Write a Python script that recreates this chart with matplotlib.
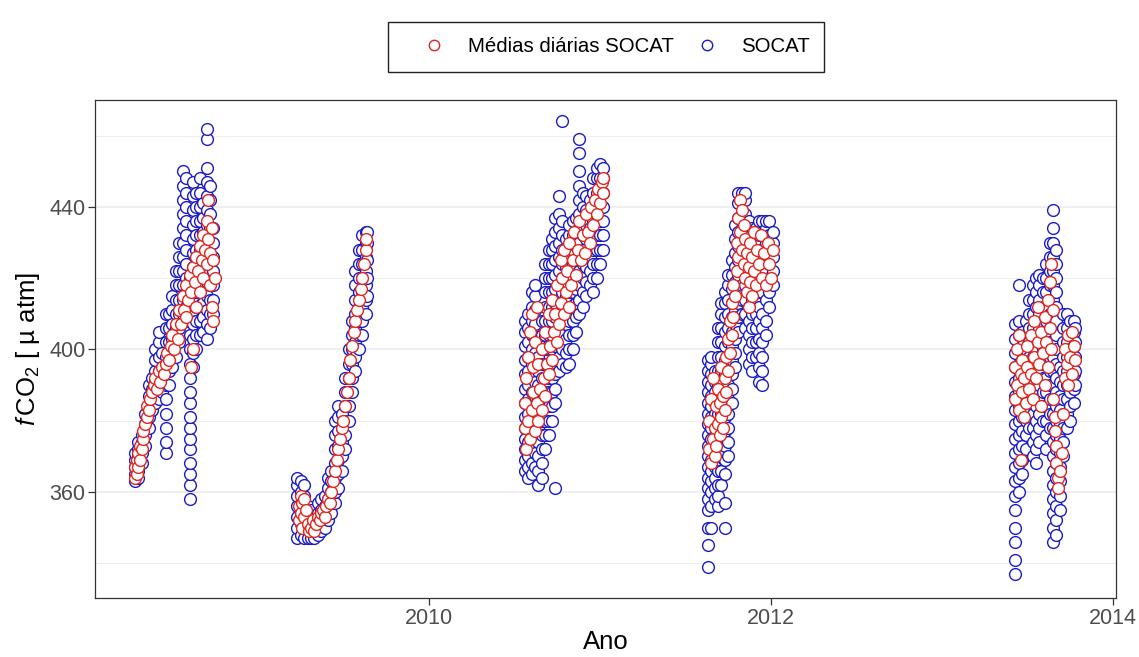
import numpy as np
import matplotlib
matplotlib.use("Agg")
import matplotlib.pyplot as plt
from matplotlib.lines import Line2D
from matplotlib.patches import Rectangle

plt.rcParams['font.family'] = ['Liberation Sans', 'DejaVu Sans']
plt.rcParams['mathtext.fontset'] = 'custom'
plt.rcParams['mathtext.rm'] = 'Liberation Sans'
plt.rcParams['mathtext.it'] = 'Liberation Sans:italic'

# SOCAT fCO2 (uatm): each cruise day is a column of values at one date (decimal year)
socat_2008_ano = [2008.28, 2008.30, 2008.32, 2008.34, 2008.36, 2008.38, 2008.40, 2008.42, 2008.44,
                  2008.46, 2008.48, 2008.50, 2008.52, 2008.54, 2008.56, 2008.58, 2008.60, 2008.62,
                  2008.64, 2008.66, 2008.68, 2008.70, 2008.72, 2008.74]
socat_2008_fco2 = [
    [363, 365, 367, 369, 371],
    [364, 366, 368, 370, 372, 374],
    [368, 371, 374, 376],
    [373, 376, 379, 382],
    [378, 381, 384, 387, 390],
    [383, 386, 389, 392],
    [385, 388, 391, 394, 397, 400],
    [386, 390, 394, 398, 402, 405],
    [388, 391, 395, 399],
    [371, 374, 378, 382, 386, 390, 394, 398, 402, 406, 410],
    [390, 394, 398, 402, 406, 410],
    [395, 399, 403, 407, 411, 415],
    [398, 402, 406, 410, 414, 418, 422],
    [402, 406, 410, 414, 418, 422, 426, 430],
    [410, 414, 418, 422, 426, 430, 434, 438, 442, 446, 450],
    [408, 412, 416, 420, 424, 428, 432, 436, 440, 444, 448],
    [358, 362, 365, 368, 372, 375, 378, 381, 385, 388, 392, 396, 400, 404, 408, 412, 416, 420],
    [395, 399, 403, 407, 411, 415, 419, 423, 427, 431, 435, 439, 443, 447],
    [400, 404, 408, 412, 416, 420, 424, 428, 432, 436, 440, 444],
    [404, 408, 412, 416, 420, 424, 428, 432, 436, 440, 444, 448],
    [405, 409, 413, 417, 421, 425, 429, 433, 437, 441],
    [403, 407, 411, 415, 419, 423, 427, 431, 435, 439, 443, 447, 451, 459, 462],
    [406, 410, 414, 418, 422, 426, 430, 434, 438, 442, 446],
    [410, 414, 418, 422, 426, 430, 434],
]

socat_2009_ano = [2009.23, 2009.25, 2009.27, 2009.29, 2009.31, 2009.33, 2009.35, 2009.37, 2009.39,
                  2009.41, 2009.43, 2009.45, 2009.47, 2009.49, 2009.51, 2009.53, 2009.55, 2009.57,
                  2009.59, 2009.61, 2009.63, 2009.64]
socat_2009_fco2 = [
    [347, 350, 353, 356, 359, 362, 364],
    [348, 351, 354, 357, 360, 363],
    [347, 350, 353, 356, 359, 362],
    [347, 350, 353, 356],
    [347, 349, 352, 355],
    [347, 350, 353],
    [348, 351, 354, 357],
    [349, 352, 355, 358],
    [350, 353, 356, 359],
    [352, 355, 358, 361, 364],
    [354, 357, 360, 363, 366],
    [357, 360, 364, 368, 372, 376, 380],
    [361, 365, 369, 373, 377, 381, 384],
    [366, 370, 374, 378, 382],
    [372, 376, 380, 384, 388, 392],
    [380, 384, 388, 392, 396, 400],
    [388, 392, 396, 400, 404, 408],
    [394, 398, 402, 406, 410, 414, 418, 422],
    [400, 404, 408, 412, 416, 420, 424, 428],
    [404, 408, 412, 416, 420, 424, 428, 432],
    [410, 414, 418, 422, 426, 430, 433],
    [415, 420, 425, 430, 433],
]

socat_2010_ano = [2010.56, 2010.58, 2010.60, 2010.62, 2010.64, 2010.66, 2010.68, 2010.70, 2010.72,
                  2010.74, 2010.76, 2010.78, 2010.80, 2010.82, 2010.84, 2010.86, 2010.88, 2010.90,
                  2010.92, 2010.94, 2010.96, 2010.98, 2011.00, 2011.02]
socat_2010_fco2 = [
    [366, 369, 372, 375, 378, 381, 385, 389, 393, 397, 401, 405, 408],
    [364, 367, 370, 374, 378, 382, 386, 390, 394, 398, 402, 406, 410],
    [365, 368, 372, 376, 380, 384, 388, 392, 396, 400, 404, 408, 412, 416],
    [367, 371, 375, 379, 383, 387, 391, 395, 399, 403, 407, 411, 415, 418],
    [362, 366, 370, 374, 378, 382, 386, 390, 394, 398, 402],
    [364, 368, 372, 376, 380, 384, 388, 392, 396, 400, 404, 408],
    [372, 376, 380, 384, 388, 392, 396, 400, 404, 408, 412, 416, 420, 424],
    [376, 380, 384, 388, 392, 396, 400, 404, 408, 412, 416, 420, 424, 428],
    [380, 384, 388, 392, 396, 400, 404, 408, 412, 416, 420, 424, 428, 431],
    [361, 385, 389, 393, 397, 401, 405, 409, 413, 417, 421, 425, 429, 433, 437],
    [394, 398, 402, 406, 410, 414, 418, 422, 426, 430, 434, 438, 443],
    [396, 400, 404, 408, 412, 416, 420, 424, 428, 432, 436, 464],
    [395, 399, 403, 407, 411, 415, 419, 423, 427, 431],
    [396, 400, 404, 408, 412, 416, 420, 424, 428, 432, 435],
    [400, 404, 408, 412, 416, 420, 424, 428, 432, 436],
    [405, 409, 413, 417, 421, 425, 429, 433, 437],
    [410, 414, 418, 422, 426, 430, 434, 438, 442, 446, 450, 455, 459],
    [412, 416, 420, 424, 428, 432, 436, 440, 444],
    [415, 419, 423, 427, 431, 435, 439, 443],
    [418, 422, 426, 430, 434, 438, 442],
    [416, 420, 424, 428, 432, 436, 440, 444, 448],
    [420, 424, 428, 432, 436, 440, 444, 448, 451],
    [424, 428, 432, 436, 440, 444, 448, 452],
    [428, 432, 436, 440, 444, 448, 451],
]

socat_2011_ano = [2011.63, 2011.65, 2011.67, 2011.69, 2011.71, 2011.73, 2011.75, 2011.77, 2011.79,
                  2011.81, 2011.83, 2011.85, 2011.87, 2011.89, 2011.91, 2011.93, 2011.95, 2011.97,
                  2011.99, 2012.01]
socat_2011_fco2 = [
    [339, 345, 350, 355, 358, 361, 364, 367, 370, 373, 376, 379, 382, 385, 388, 391, 394, 397],
    [350, 356, 360, 363, 366, 369, 372, 375, 378, 381, 384, 387, 390, 393, 396, 398],
    [358, 361, 364, 367, 370, 373, 376, 379, 382, 385, 388, 391, 394],
    [356, 359, 362, 366, 370, 374, 378, 382, 386, 390, 394, 398, 402, 406],
    [362, 366, 370, 374, 378, 382, 386, 390, 394, 398, 402, 406, 410, 413],
    [350, 357, 365, 369, 373, 377, 381, 385, 389, 393, 397, 401, 405, 409, 413, 416],
    [370, 374, 378, 382, 386, 390, 394, 398, 402, 406, 410, 414, 418, 421],
    [385, 389, 393, 397, 401, 405, 409, 413, 417, 421, 425],
    [395, 399, 403, 407, 411, 415, 419, 423, 427, 431, 435],
    [405, 409, 413, 417, 421, 425, 429, 433, 437, 441, 444],
    [410, 414, 418, 422, 426, 430, 434, 438, 442, 444],
    [406, 410, 414, 418, 422, 426, 430, 434, 438, 442, 444],
    [396, 400, 404, 408, 412, 416, 420, 424, 428, 432, 436],
    [394, 398, 402, 406, 410, 414, 418, 422, 426, 430, 434],
    [398, 402, 406, 410, 414, 418, 422, 426, 430, 434],
    [391, 395, 399, 403, 408, 412, 416, 420, 424, 428, 432, 436],
    [390, 394, 398, 402, 406, 410, 416, 420, 424, 428, 432, 436],
    [404, 408, 414, 418, 422, 426, 430, 434, 436],
    [412, 416, 420, 424, 428, 432, 436],
    [418, 422, 426, 430, 433],
]

socat_2013_ano = [2013.43, 2013.45, 2013.47, 2013.49, 2013.51, 2013.53, 2013.55, 2013.57, 2013.59,
                  2013.61, 2013.63, 2013.65, 2013.67, 2013.69, 2013.71, 2013.73, 2013.75, 2013.77,
                  2013.78]
socat_2013_fco2 = [
    [337, 341, 346, 350, 355, 359, 363, 367, 371, 375, 379, 383, 387, 391, 395, 399, 403, 407],
    [360, 364, 368, 372, 376, 380, 384, 388, 392, 396, 400, 404, 408, 418],
    [365, 369, 373, 377, 381, 385, 389, 393, 397, 401, 405],
    [372, 376, 380, 384, 388, 392, 396, 400, 404, 408],
    [378, 382, 386, 390, 394, 398, 402, 406, 410, 414],
    [370, 374, 378, 382, 386, 390, 394, 398, 402, 406, 410, 414, 418],
    [368, 372, 376, 380, 384, 388, 392, 396, 400, 404, 408, 412, 416, 420],
    [374, 378, 382, 386, 390, 394, 398, 402, 406, 410, 414, 418, 421],
    [380, 384, 388, 392, 396, 400, 404, 408, 412, 416, 420],
    [372, 376, 380, 384, 388, 392, 396, 400, 404, 408, 412, 416, 420, 424],
    [378, 382, 386, 390, 394, 398, 402, 406, 410, 414, 418, 422, 426, 430],
    [346, 350, 354, 358, 362, 366, 370, 374, 378, 382, 386, 390, 394, 398, 402, 406, 410, 414,
     418, 422, 426, 430, 434, 439],
    [348, 352, 356, 360, 364, 368, 372, 376, 380, 384, 388, 392, 396, 400, 404, 408, 412, 416,
     420, 424, 428],
    [355, 359, 363, 367, 371, 375, 379, 383, 387, 391, 395],
    [370, 374, 378, 382, 386, 390, 394, 398, 402, 406, 410],
    [378, 382, 386, 390, 394, 398, 402, 406, 410],
    [380, 384, 388, 392, 396, 400, 404, 408],
    [385, 389, 393, 397, 401, 405, 408],
    [390, 394, 398, 402, 406],
]

# daily means of SOCAT fCO2
medias_2008_ano = [2008.28, 2008.28, 2008.29, 2008.29, 2008.30, 2008.30, 2008.31, 2008.31, 2008.32,
                   2008.33, 2008.33, 2008.34, 2008.35, 2008.35, 2008.36, 2008.37, 2008.38, 2008.39,
                   2008.40, 2008.41, 2008.42, 2008.43, 2008.44, 2008.45, 2008.46, 2008.47, 2008.48,
                   2008.49, 2008.50, 2008.51, 2008.52, 2008.53, 2008.54, 2008.55, 2008.56, 2008.57,
                   2008.58, 2008.58, 2008.59, 2008.60, 2008.61, 2008.61, 2008.62, 2008.62, 2008.63,
                   2008.64, 2008.64, 2008.65, 2008.66, 2008.66, 2008.67, 2008.68, 2008.68, 2008.69,
                   2008.70, 2008.70, 2008.71, 2008.71, 2008.72, 2008.72, 2008.73, 2008.73, 2008.74,
                   2008.74, 2008.75]
medias_2008_fco2 = [364, 367, 365, 369, 367, 371, 369, 373, 372,
                    375, 377, 379, 381, 384, 383, 386, 388, 390,
                    392, 389, 394, 391, 395, 393, 396, 399, 397,
                    401, 404, 400, 407, 403, 411, 407, 415, 411,
                    418, 409, 414, 421, 416, 395, 423, 400, 419,
                    426, 412, 422, 429, 416, 425, 432, 420, 428,
                    436, 424, 431, 442, 427, 418, 434, 412, 425,
                    408, 420]

medias_2009_ano = [2009.24, 2009.24, 2009.25, 2009.25, 2009.26, 2009.26, 2009.27, 2009.27, 2009.28,
                   2009.29, 2009.30, 2009.31, 2009.32, 2009.33, 2009.34, 2009.35, 2009.36, 2009.37,
                   2009.38, 2009.39, 2009.40, 2009.41, 2009.42, 2009.43, 2009.44, 2009.45, 2009.46,
                   2009.47, 2009.48, 2009.49, 2009.50, 2009.51, 2009.52, 2009.53, 2009.54, 2009.55,
                   2009.56, 2009.57, 2009.58, 2009.59, 2009.60, 2009.61, 2009.62, 2009.63, 2009.63]
medias_2009_fco2 = [352, 356, 359, 354, 357, 350, 353, 358, 355,
                    351, 349, 350, 352, 349, 351, 353, 352, 354,
                    355, 353, 356, 358, 357, 360, 363, 366, 369,
                    372, 375, 378, 380, 384, 388, 392, 397, 401,
                    405, 408, 411, 414, 417, 420, 424, 428, 431]

medias_2010_ano = [2010.56, 2010.56, 2010.57, 2010.57, 2010.58, 2010.58, 2010.59, 2010.59, 2010.60,
                   2010.60, 2010.61, 2010.61, 2010.62, 2010.62, 2010.63, 2010.63, 2010.64, 2010.64,
                   2010.65, 2010.66, 2010.66, 2010.67, 2010.68, 2010.68, 2010.69, 2010.70, 2010.70,
                   2010.71, 2010.72, 2010.72, 2010.73, 2010.74, 2010.75, 2010.75, 2010.76, 2010.77,
                   2010.77, 2010.78, 2010.79, 2010.79, 2010.80, 2010.81, 2010.82, 2010.82, 2010.83,
                   2010.84, 2010.85, 2010.86, 2010.87, 2010.88, 2010.89, 2010.90, 2010.91, 2010.92,
                   2010.93, 2010.94, 2010.95, 2010.96, 2010.97, 2010.98, 2010.99, 2011.00, 2011.01,
                   2011.02, 2011.02]
medias_2010_fco2 = [378, 385, 372, 392, 380, 398, 375, 405, 383,
                    410, 388, 395, 377, 402, 385, 412, 380, 396,
                    389, 383, 400, 392, 387, 405, 396, 393, 410,
                    401, 397, 414, 405, 410, 402, 418, 407, 425,
                    413, 420, 410, 428, 416, 422, 412, 430, 418,
                    425, 433, 421, 428, 436, 425, 432, 427, 438,
                    433, 430, 440, 435, 442, 438, 445, 441, 447,
                    444, 448]

medias_2011_ano = [2011.64, 2011.64, 2011.65, 2011.65, 2011.66, 2011.66, 2011.67, 2011.67, 2011.68,
                   2011.68, 2011.69, 2011.69, 2011.70, 2011.70, 2011.71, 2011.71, 2011.72, 2011.72,
                   2011.73, 2011.73, 2011.74, 2011.74, 2011.75, 2011.75, 2011.76, 2011.76, 2011.77,
                   2011.77, 2011.78, 2011.78, 2011.79, 2011.80, 2011.80, 2011.81, 2011.81, 2011.82,
                   2011.82, 2011.83, 2011.83, 2011.84, 2011.84, 2011.85, 2011.85, 2011.86, 2011.86,
                   2011.87, 2011.87, 2011.88, 2011.88, 2011.89, 2011.89, 2011.90, 2011.90, 2011.91,
                   2011.92, 2011.93, 2011.94, 2011.95, 2011.96, 2011.97, 2011.98, 2011.99, 2012.00,
                   2012.01]
medias_2011_fco2 = [372, 380, 368, 386, 375, 392, 378, 370, 384,
                    373, 389, 379, 376, 385, 381, 395, 387, 378,
                    392, 383, 398, 388, 403, 394, 408, 399, 413,
                    404, 418, 409, 415, 422, 430, 426, 437, 433,
                    442, 428, 439, 424, 435, 420, 431, 416, 427,
                    412, 423, 419, 430, 415, 426, 422, 433, 418,
                    428, 424, 432, 420, 427, 418, 430, 424, 420,
                    428]

medias_2013_ano = [2013.43, 2013.43, 2013.44, 2013.44, 2013.45, 2013.45, 2013.46, 2013.46, 2013.47,
                   2013.47, 2013.48, 2013.48, 2013.49, 2013.50, 2013.50, 2013.51, 2013.52, 2013.52,
                   2013.53, 2013.54, 2013.54, 2013.55, 2013.56, 2013.56, 2013.57, 2013.58, 2013.58,
                   2013.59, 2013.60, 2013.60, 2013.61, 2013.62, 2013.62, 2013.63, 2013.63, 2013.64,
                   2013.64, 2013.65, 2013.65, 2013.66, 2013.66, 2013.67, 2013.67, 2013.68, 2013.68,
                   2013.69, 2013.70, 2013.71, 2013.72, 2013.72, 2013.73, 2013.74, 2013.74, 2013.75,
                   2013.76, 2013.76, 2013.77, 2013.78]
medias_2013_fco2 = [395, 386, 400, 390, 383, 404, 393, 369, 388,
                    397, 381, 392, 385, 395, 401, 389, 393, 404,
                    386, 398, 408, 392, 402, 412, 396, 405, 384,
                    399, 409, 390, 402, 414, 395, 406, 419, 424,
                    400, 411, 386, 381, 377, 373, 368, 364, 361,
                    366, 371, 382, 392, 400, 396, 404, 390, 398,
                    405, 393, 401, 397]

socat_anos = [socat_2008_ano, socat_2009_ano, socat_2010_ano, socat_2011_ano, socat_2013_ano]
socat_vals = [socat_2008_fco2, socat_2009_fco2, socat_2010_fco2, socat_2011_fco2, socat_2013_fco2]

socat_x = []
socat_y = []
for anos, cols in zip(socat_anos, socat_vals):
    for a, col in zip(anos, cols):
        socat_x += [a] * len(col)
        socat_y += col

medias_x = medias_2008_ano + medias_2009_ano + medias_2010_ano + medias_2011_ano + medias_2013_ano
medias_y = medias_2008_fco2 + medias_2009_fco2 + medias_2010_fco2 + medias_2011_fco2 + medias_2013_fco2

cor_socat = '#1c1cc4'
cor_medias = '#e0261e'

fig = plt.figure(figsize=(11.39, 6.57), dpi=100)
ax = fig.add_axes([0.0834, 0.0898, 0.8964, 0.7580])

ax.scatter(socat_x, socat_y, s=72, facecolors='white', edgecolors=cor_socat, linewidths=1.0, zorder=3)
ax.scatter(medias_x, medias_y, s=72, facecolors='white', edgecolors=cor_medias, linewidths=1.0, zorder=4)

ax.set_xlim(2008.047, 2014.018)
ax.set_ylim(330.25, 470)
ax.set_xticks([2010, 2012, 2014])
ax.set_yticks([360, 400, 440])
ax.set_yticks([340, 380, 420, 460], minor=True)
ax.grid(axis='y', which='major', color='#ebebeb', lw=1.1, zorder=0)
ax.grid(axis='y', which='minor', color='#ebebeb', lw=0.6, zorder=0)
ax.set_axisbelow(True)
ax.tick_params(axis='both', which='major', length=5, width=0.9, color='#333333',
               labelcolor='#4d4d4d', labelsize=15.5, pad=2)
ax.tick_params(axis='y', which='minor', length=0)
for sp in ax.spines.values():
    sp.set_color('#333333')
    sp.set_linewidth(0.9)

ax.set_xlabel('Ano', fontsize=18.5, labelpad=1)
ax.set_ylabel(r'$\mathit{f}\,$CO$_2$ [ µ atm]', fontsize=18.5, labelpad=5)

# legend: frame drawn by hand, entries placed inside it
fig.patches.append(Rectangle((388 / 1139, 1 - 72 / 657), 436 / 1139, 50 / 657,
                             transform=fig.transFigure, fill=False,
                             edgecolor='#222222', lw=1.0))
handles = [
    Line2D([], [], ls='none', marker='o', markersize=7.5, markerfacecolor='white',
           markeredgecolor=cor_medias, markeredgewidth=1.0),
    Line2D([], [], ls='none', marker='o', markersize=7.5, markerfacecolor='white',
           markeredgecolor=cor_socat, markeredgewidth=1.0),
]
fig.legend(handles, ['Médias diárias SOCAT', 'SOCAT'], loc='center left',
           bbox_to_anchor=(423.8 / 1139, 1 - 47 / 657), ncol=2, fontsize=14.7,
           frameon=False, borderpad=0, borderaxespad=0, handlelength=1.0,
           handletextpad=1.17, columnspacing=1.12)

fig.savefig('out.png', dpi=100)
